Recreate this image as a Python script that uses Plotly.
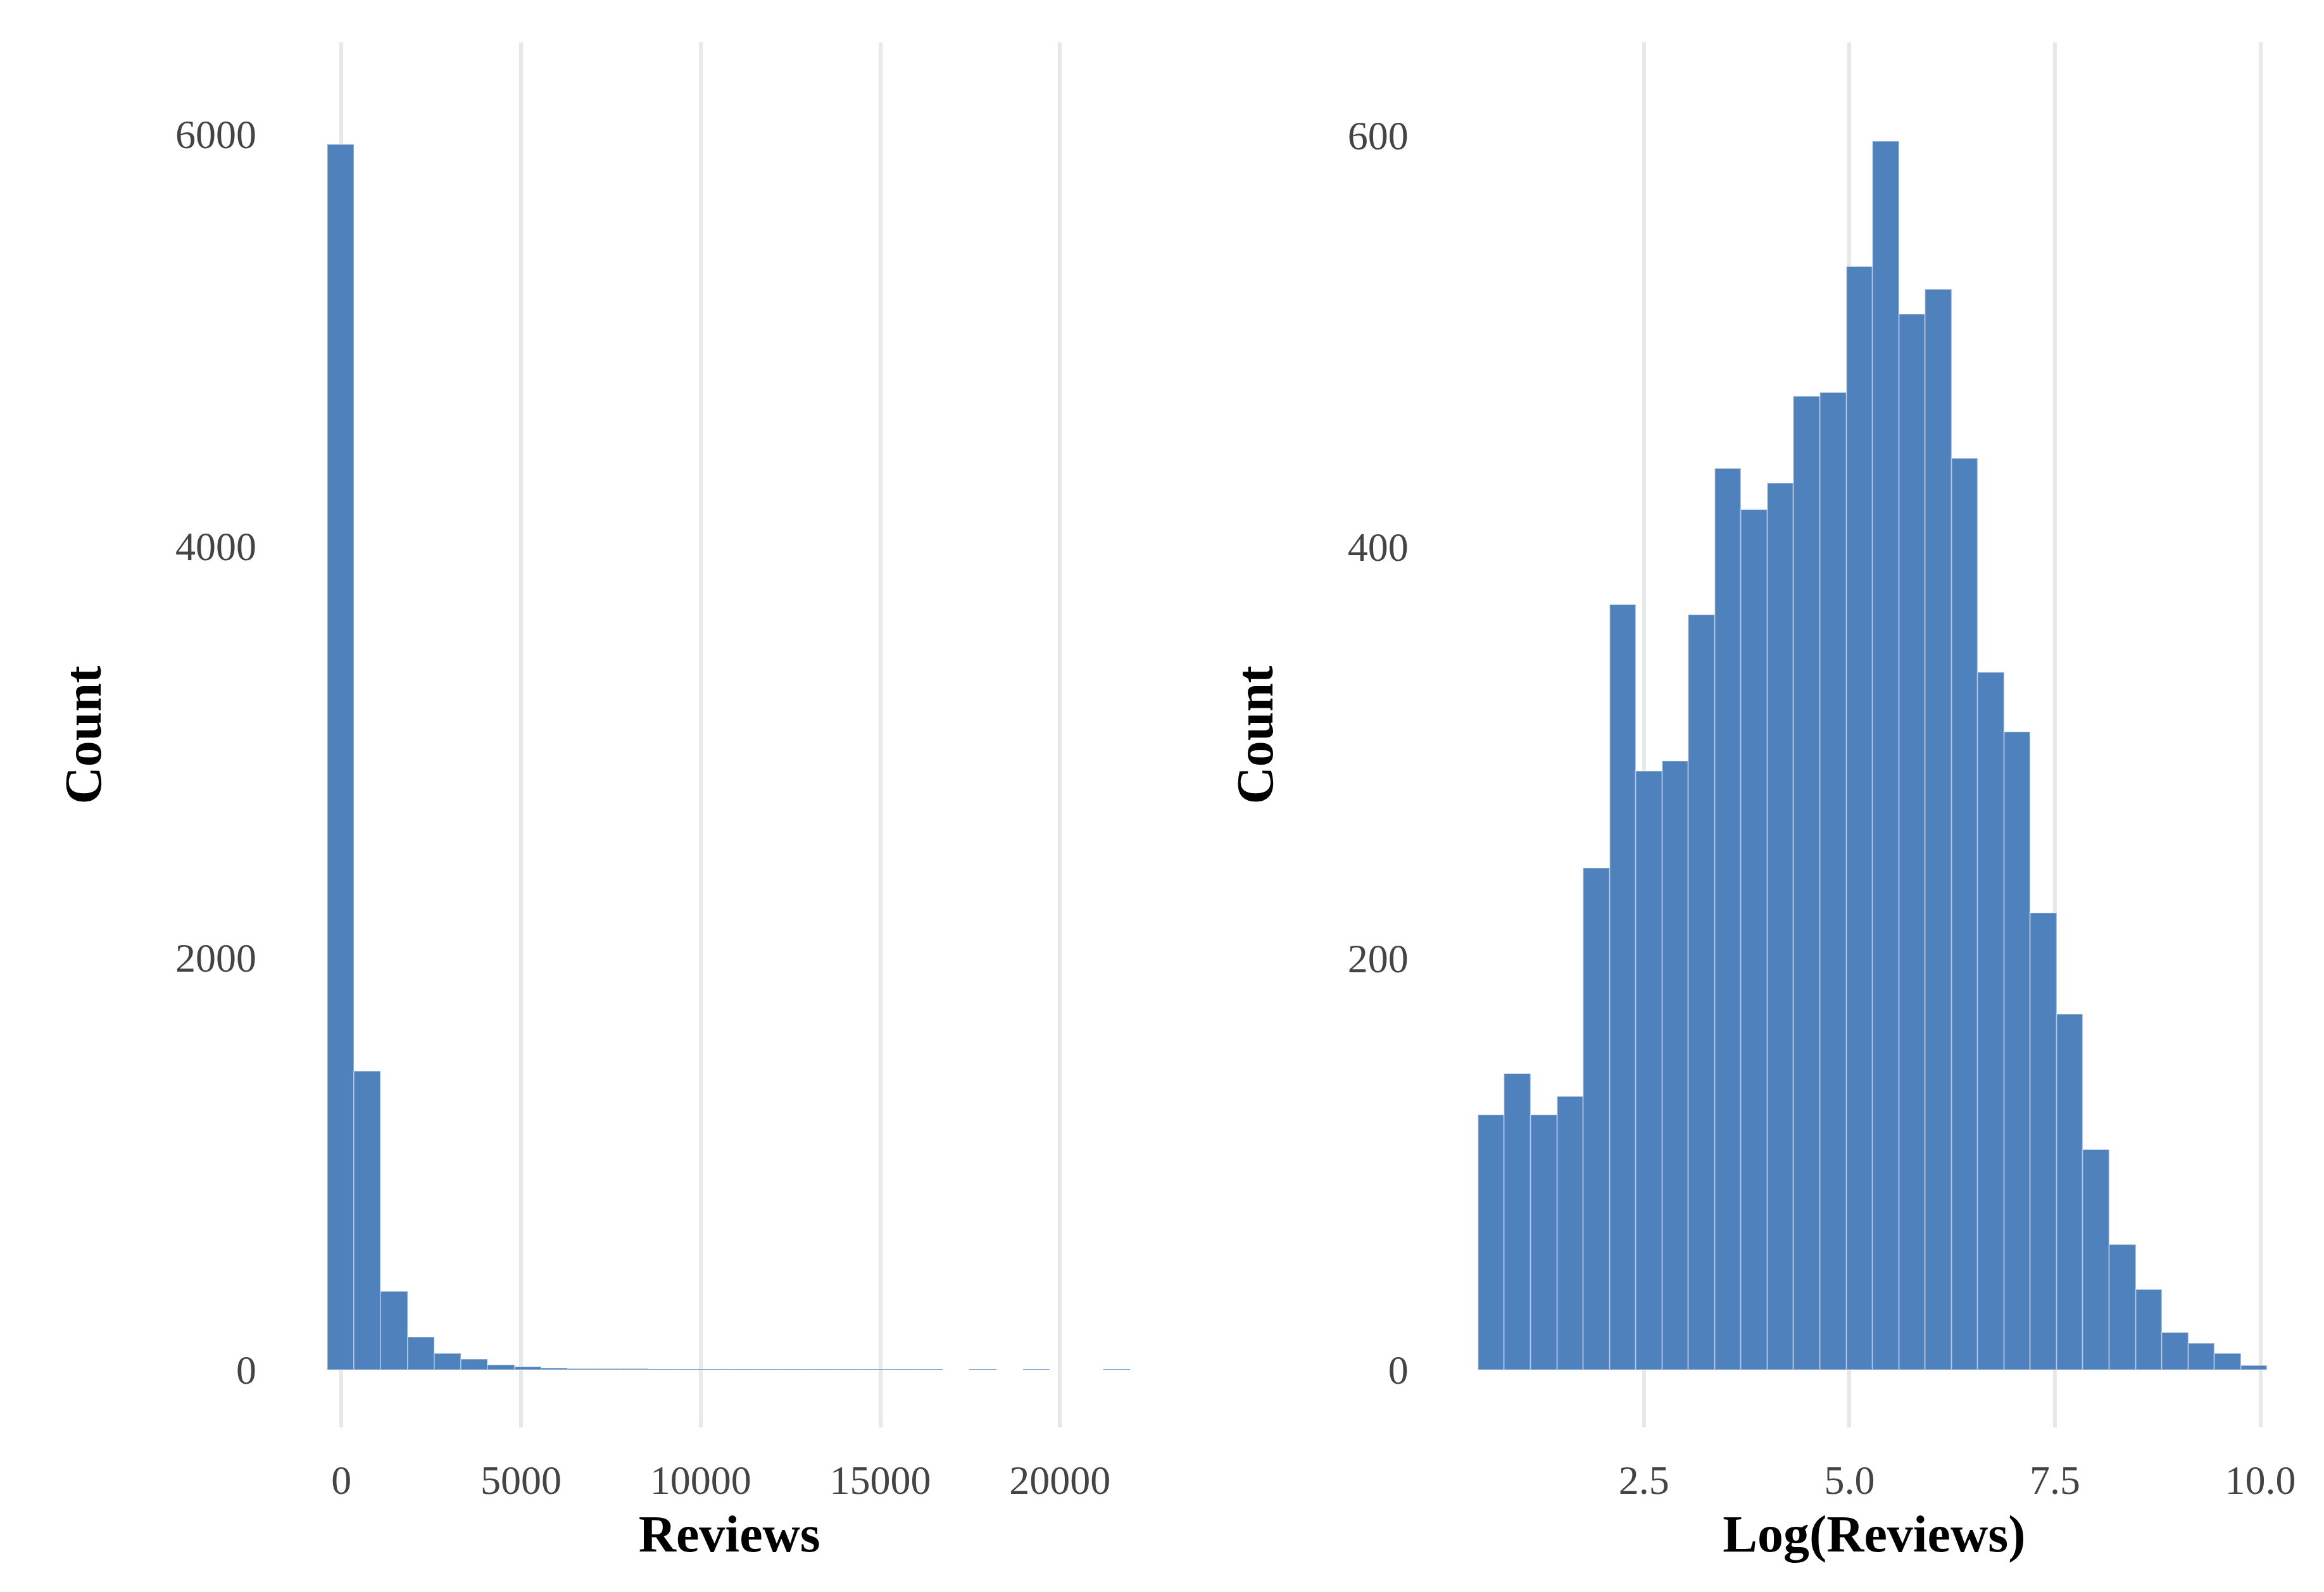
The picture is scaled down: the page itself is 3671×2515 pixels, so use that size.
import numpy as np
import plotly.graph_objects as go
from plotly.subplots import make_subplots

# Histogram counts
reviews_start = -400
reviews_width = 745
reviews_counts = [5950, 1450, 380, 160, 80, 50, 22, 15, 9, 6, 5, 4, 3, 3, 2, 1, 1, 1, 1, 1,
                  1, 1, 1, 0, 1, 0, 1, 0, 0, 1]

log_start = 0.48
log_width = 0.32
log_counts = [124, 144, 124, 133, 244, 372, 291, 296, 367, 438, 418, 431, 473, 475, 536,
              597, 513, 525, 443, 339, 310, 222, 173, 107, 61, 39, 18, 13, 8, 2]

reviews_ticks = [0, 5000, 10000, 15000, 20000]
log_ticks = [2.5, 5.0, 7.5, 10.0]

reviews_x = reviews_start + reviews_width * (np.arange(len(reviews_counts)) + 0.5)
log_x = log_start + log_width * (np.arange(len(log_counts)) + 0.5)

BAR = "#4f81bd"
FONT = "Liberation Serif"

fig = make_subplots(rows=1, cols=2, horizontal_spacing=0.15)

fig.add_trace(go.Bar(x=reviews_x, y=reviews_counts, width=reviews_width,
                     marker=dict(color=BAR, line=dict(color="rgba(255,255,255,0.35)", width=2))),
              row=1, col=1)
fig.add_trace(go.Bar(x=log_x, y=log_counts, width=log_width,
                     marker=dict(color=BAR, line=dict(color="rgba(255,255,255,0.35)", width=2))),
              row=1, col=2)

axis_common = dict(showline=False, zeroline=False, ticks="",
                   tickfont=dict(family=FONT, size=64, color="#444"),
                   title_font=dict(family=FONT, size=82, color="black"))

fig.update_xaxes(**axis_common, showgrid=True, gridcolor="#e8e8e8", gridwidth=6,
                 ticklabelstandoff=40, title_standoff=20)
fig.update_yaxes(**axis_common, showgrid=False, ticklabelstandoff=105, title_standoff=90)

fig.update_xaxes(range=[-500, 22100], tickvals=reviews_ticks,
                 ticktext=[str(t) for t in reviews_ticks],
                 title_text="<b>Reviews</b>", row=1, col=1)
fig.update_xaxes(range=[0.45, 10.15], tickvals=log_ticks, tickformat=".1f",
                 title_text="<b>Log(Reviews)</b>", row=1, col=2)
fig.update_yaxes(range=[-281, 6446], tickvals=[0, 2000, 4000, 6000],
                 title_text="<b>Count</b>", row=1, col=1)
fig.update_yaxes(range=[-28, 645], tickvals=[0, 200, 400, 600],
                 title_text="<b>Count</b>", row=1, col=2)

fig.update_layout(
    width=3671, height=2515,
    paper_bgcolor="white", plot_bgcolor="white",
    showlegend=False, bargap=0,
    margin=dict(l=503, r=89, t=59, b=268),
)
fig.layout.xaxis.domain = [0, 0.4165]
fig.layout.xaxis2.domain = [0.591, 1.0]

fig.write_html("out.html")
